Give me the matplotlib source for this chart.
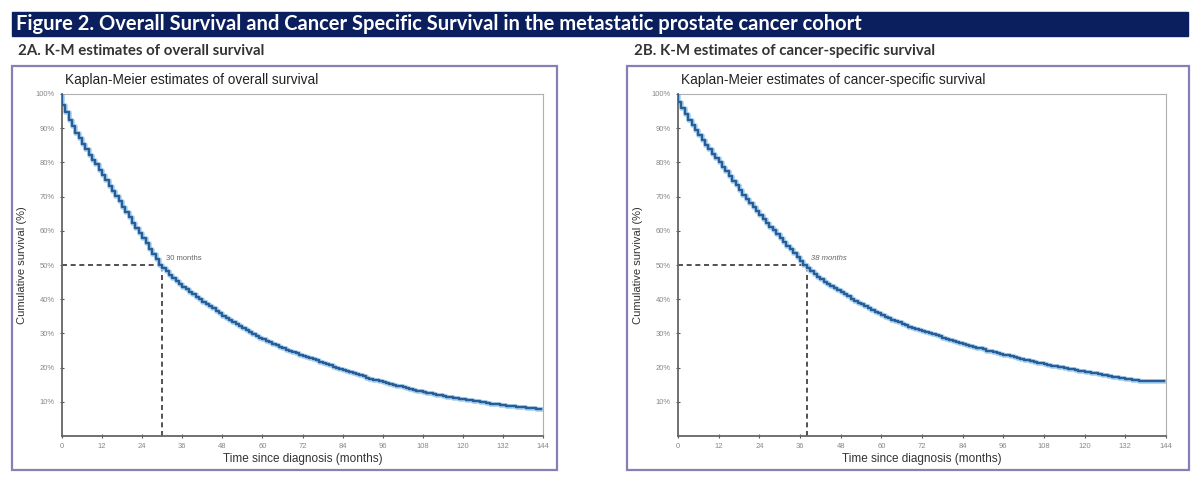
import matplotlib
matplotlib.use("Agg")
import matplotlib.pyplot as plt
from matplotlib.patches import Rectangle

# survival, one value per month (month 0 .. 143)
months = list(range(0, 144))

os_surv = [100, 96.8, 94.6, 92.5, 90.5, 88.7, 87.0, 85.4, 83.8, 82.3,
           80.8, 79.4, 77.9, 76.3, 74.8, 73.2, 71.7, 70.1, 68.6, 67.0,
           65.5, 63.9, 62.4, 60.8, 59.3, 57.8, 56.3, 54.8, 53.3, 51.8,
           50.0, 49.0, 48.1, 47.2, 46.3, 45.4, 44.5, 43.7, 42.9, 42.1,
           41.4, 40.7, 40.0, 39.3, 38.6, 37.9, 37.3, 36.6, 36.0, 35.2,
           34.6, 34.0, 33.4, 32.8, 32.2, 31.6, 31.0, 30.4, 29.8, 29.3,
           28.8, 28.4, 27.9, 27.5, 27.0, 26.6, 26.1, 25.7, 25.2, 24.9,
           24.5, 24.2, 23.8, 23.5, 23.1, 22.8, 22.4, 22.1, 21.7, 21.4,
           21.0, 20.7, 20.3, 20.0, 19.6, 19.3, 18.9, 18.6, 18.3, 18.0,
           17.7, 17.4, 17.1, 16.8, 16.5, 16.3, 16.0, 15.7, 15.5, 15.2,
           15.0, 14.7, 14.5, 14.2, 14.0, 13.7, 13.5, 13.3, 13.1, 12.9,
           12.7, 12.5, 12.3, 12.1, 11.9, 11.7, 11.5, 11.3, 11.2, 11.0,
           10.8, 10.7, 10.5, 10.4, 10.2, 10.1, 9.9, 9.8, 9.7, 9.5,
           9.4, 9.3, 9.1, 9.0, 8.9, 8.8, 8.7, 8.6, 8.5, 8.4,
           8.3, 8.2, 8.1, 8.0]

css_surv = [100, 97.6, 95.9, 94.2, 92.5, 90.8, 89.4, 88.0, 86.6, 85.2,
            83.9, 82.6, 81.3, 80.0, 78.7, 77.4, 76.0, 74.6, 73.3, 71.9,
            70.5, 69.3, 68.1, 66.9, 65.7, 64.5, 63.4, 62.3, 61.2, 60.1,
            59.0, 57.9, 56.8, 55.7, 54.6, 53.5, 52.4, 51.3, 49.9, 49.0,
            48.1, 47.3, 46.5, 45.8, 45.1, 44.5, 43.9, 43.2, 42.6, 42.0,
            41.4, 40.8, 40.2, 39.6, 39.0, 38.5, 38.0, 37.4, 36.9, 36.4,
            35.9, 35.4, 34.9, 34.5, 34.0, 33.6, 33.2, 32.8, 32.4, 32.0,
            31.7, 31.3, 31.0, 30.6, 30.3, 30.0, 29.7, 29.4, 29.1, 28.8,
            28.5, 28.2, 27.9, 27.6, 27.3, 27.0, 26.7, 26.4, 26.1, 25.8,
            25.6, 25.3, 25.0, 24.8, 24.5, 24.3, 24.1, 23.8, 23.6, 23.3,
            23.1, 22.8, 22.6, 22.3, 22.1, 21.8, 21.6, 21.4, 21.2, 21.0,
            20.8, 20.6, 20.4, 20.3, 20.1, 19.9, 19.7, 19.5, 19.3, 19.1,
            18.9, 18.8, 18.7, 18.5, 18.3, 18.1, 17.9, 17.7, 17.5, 17.3,
            17.2, 17.0, 16.9, 16.7, 16.6, 16.5, 16.3, 16.2, 16.1, 16.1,
            16.1, 16.1, 16.1, 16.1]

os_median = 30
css_median = 38
x_ticks = list(range(0, 145, 12))
y_ticks = [10, 20, 30, 40, 50, 60, 70, 80, 90, 100]

W, H = 1200, 480
fig = plt.figure(figsize=(12, 4.8), dpi=100)
fig.patch.set_facecolor("white")


def box(x0, y0, x1, y1):
    # pixel box (top-left origin) -> figure fraction rect
    return [x0 / W, 1 - y1 / H, (x1 - x0) / W, (y1 - y0) / H]


# header bar
fig.patches.append(Rectangle((12 / W, 1 - 36 / H), 1176 / W, 24 / H,
                             transform=fig.transFigure, color="#0b1f5e"))
fig.text(16 / W, 1 - 24.5 / H,
         "Figure 2. Overall Survival and Cancer Specific Survival in the metastatic prostate cancer cohort",
         color="white", fontsize=14.5, fontweight="bold", family="Lato", va="center")

panels = [
    dict(sub="2A. K-M estimates of overall survival", sub_x=18,
         frame=(12, 66, 557, 470), ax=(62, 94, 543, 436),
         title="Kaplan-Meier estimates of overall survival",
         surv=os_surv, med=os_median, italic=False),
    dict(sub="2B. K-M estimates of cancer-specific survival", sub_x=634,
         frame=(627, 66, 1189, 470), ax=(678, 94, 1166, 436),
         title="Kaplan-Meier estimates of cancer-specific survival",
         surv=css_surv, med=css_median, italic=True),
]

for p in panels:
    fig.text(p["sub_x"] / W, 1 - 51 / H, p["sub"], fontsize=10.8, fontweight="bold",
             family="Lato", color="#333333", va="center")
    fx0, fy0, fx1, fy1 = p["frame"]
    fig.patches.append(Rectangle((fx0 / W, 1 - fy1 / H), (fx1 - fx0) / W, (fy1 - fy0) / H,
                                 transform=fig.transFigure, fill=False,
                                 edgecolor="#8a7fb4", lw=1.6))
    ax0, ay0, ax1, ay1 = p["ax"]
    fig.text((ax0 + 3) / W, 1 - 80 / H, p["title"], fontsize=9.8,
             family="Liberation Sans", color="#222222", va="center")

    ax = fig.add_axes(box(ax0, ay0, ax1, ay1))
    xs = months + [143.5]
    ys = p["surv"] + [p["surv"][-1]]
    # glow + line
    ax.step(xs, ys, where="pre", color="#a6d3f3", lw=3.4, zorder=2)
    ax.step(xs, ys, where="pre", color="#2a5d96", lw=1.7, zorder=3)
    ax.plot([0, p["med"]], [50, 50], color="#333333", lw=1.2, ls=(0, (3, 2.2)), zorder=1)
    ax.plot([p["med"], p["med"]], [0, 50], color="#333333", lw=1.2, ls=(0, (3, 2.2)), zorder=1)
    ax.text(p["med"] + 1.2, 51, f"{p['med']} months", fontsize=5.5,
            family="Liberation Sans", color="#666666",
            style="italic" if p["italic"] else "normal", va="bottom")

    ax.set_xlim(0, 144)
    ax.set_ylim(0, 100)
    ax.set_xticks(x_ticks)
    ax.set_xticklabels([str(t) for t in x_ticks])
    ax.set_yticks(y_ticks)
    ax.set_yticklabels([f"{t}%" for t in y_ticks])
    ax.tick_params(axis="both", labelsize=5.5, colors="#555555", labelcolor="#888888",
                   length=3, width=0.8, direction="inout")
    for lab in ax.get_xticklabels() + ax.get_yticklabels():
        lab.set_family("Liberation Sans")
    ax.spines["left"].set_color("#666666")
    ax.spines["bottom"].set_color("#666666")
    ax.spines["left"].set_linewidth(1.3)
    ax.spines["bottom"].set_linewidth(1.3)
    ax.spines["top"].set_color("#b0b0b0")
    ax.spines["right"].set_color("#b0b0b0")
    ax.set_xlabel("Time since diagnosis (months)", fontsize=8.5, family="Liberation Sans",
                  color="#333333", labelpad=2)
    ax.set_ylabel("Cumulative survival (%)", fontsize=8, family="Liberation Sans",
                  color="#333333", labelpad=6)

fig.savefig("out.png", dpi=100)
